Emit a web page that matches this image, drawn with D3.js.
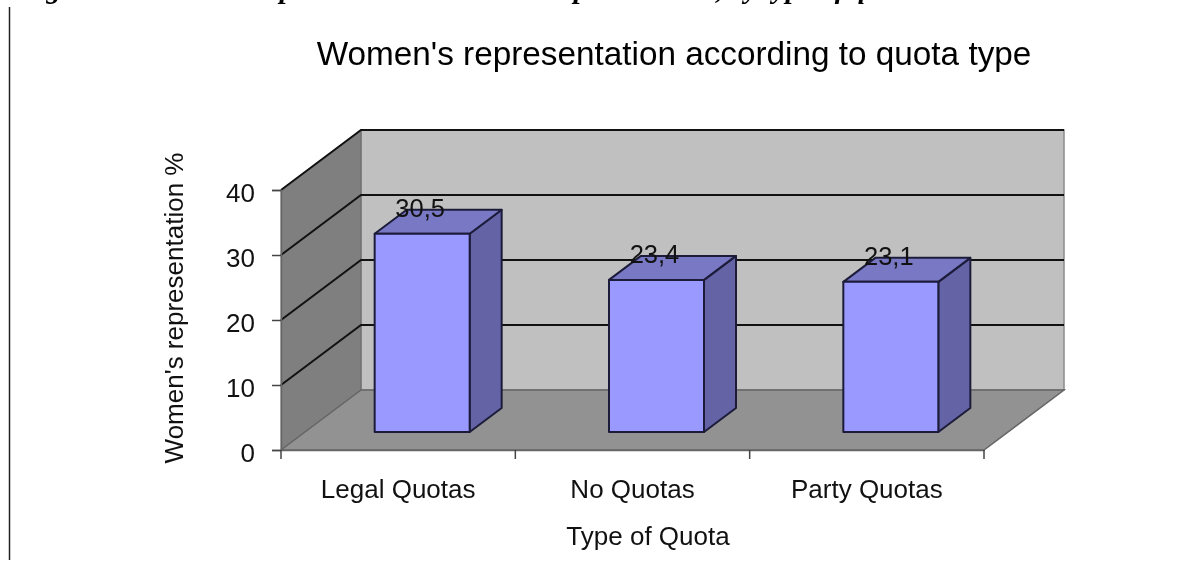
<!DOCTYPE html>
<html>
<head>
<meta charset="utf-8">
<script src="https://cdnjs.cloudflare.com/ajax/libs/d3/7.8.5/d3.min.js"></script>
<style>
	body { margin: 0; background: #fff; }
	svg { display: block; font-family: "Liberation Sans", Arial, sans-serif; filter: blur(0.5px); }
</style>
</head>
<body>
<div id="chart"></div>
<script>
const categories = ["Legal Quotas", "No Quotas", "Party Quotas"];
const values = [30.5, 23.4, 23.1];
const yTicks = [0, 10, 20, 30, 40];
const chartTitle = "Women's representation according to quota type";
const yTitle = "Women's representation %";
const xTitle = "Type of Quota";
const caption = "Figure 1: Women's representation in national parliaments, by type of quota";

const width = 1203,
	height = 561;

const svg = d3
	.select("#chart")
	.append("svg")
	.attr("width", width)
	.attr("height", height)
	.attr("viewBox", [0, 0, width, height]);

// front plane of the 3d box
const xScale = d3.scaleBand().domain(categories).range([281, 984]);
const yScale = d3.scaleLinear().domain([0, 40]).range([450, 190]);

// how far the back of the box is shifted from the front
const depthX = 80,
	depthY = -60;
const barDepthFront = 0.3,
	barDepthBack = 0.7;
const barWidth = 95;

const project = (x, y, depth) => [x + depth * depthX, y + depth * depthY];
const poly = d3.line();
const polygon = (points) => poly(points) + "Z";

const [xLeft, xRight] = xScale.range();
const yBase = yScale(0),
	yTop = yScale(40);

// caption cut off by the top of the page, only its descenders show
svg
	.append("text")
	.attr("x", 19)
	.attr("y", -2)
	.style("font", "italic bold 29px 'Liberation Serif', serif")
	.text(caption);

// rule on the left of the page
svg
	.append("line")
	.attr("x1", 9.5)
	.attr("x2", 9.5)
	.attr("y1", 7)
	.attr("y2", 560)
	.style("stroke", "#222")
	.style("stroke-width", 1.5);

// walls and floor
const box = svg.append("g").attr("id", "box");
box
	.append("path")
	.attr(
		"d",
		polygon([
			project(xLeft, yTop, 1),
			project(xRight, yTop, 1),
			project(xRight, yBase, 1),
			project(xLeft, yBase, 1)
		])
	)
	.style("fill", "#c0c0c0")
	.style("stroke", "#8a8a8a")
	.style("stroke-width", 1.5);
box
	.append("path")
	.attr(
		"d",
		polygon([
			project(xLeft, yTop, 0),
			project(xLeft, yTop, 1),
			project(xLeft, yBase, 1),
			project(xLeft, yBase, 0)
		])
	)
	.style("fill", "#7f7f7f")
	.style("stroke", "#6a6a6a")
	.style("stroke-width", 1);
box
	.append("path")
	.attr(
		"d",
		polygon([
			project(xLeft, yBase, 0),
			project(xRight, yBase, 0),
			project(xRight, yBase, 1),
			project(xLeft, yBase, 1)
		])
	)
	.style("fill", "#929292")
	.style("stroke", "#666")
	.style("stroke-width", 1.5);

// gridlines, running along the side wall and then the back wall
box
	.selectAll("path.grid")
	.data(yTicks.filter((d) => d > 0))
	.join("path")
	.attr("class", "grid")
	.attr("d", (d) =>
		poly([
			project(xLeft, yScale(d), 0),
			project(xLeft, yScale(d), 1),
			project(xRight, yScale(d), 1)
		])
	)
	.style("fill", "none")
	.style("stroke", "#111")
	.style("stroke-width", 2);

// bars
const bars = svg
	.append("g")
	.attr("id", "bars")
	.selectAll("g")
	.data(categories.map((c, i) => ({ category: c, value: values[i] })))
	.join("g");

const barLeft = (d) =>
	xScale(d.category) + (xScale.bandwidth() - barWidth) / 2;

// corners of a bar in the front and back planes
function corners(d) {
	const x0 = barLeft(d),
		x1 = x0 + barWidth,
		y0 = yScale(0),
		y1 = yScale(d.value);
	return {
		frontBL: project(x0, y0, barDepthFront),
		frontBR: project(x1, y0, barDepthFront),
		frontTL: project(x0, y1, barDepthFront),
		frontTR: project(x1, y1, barDepthFront),
		backBR: project(x1, y0, barDepthBack),
		backTL: project(x0, y1, barDepthBack),
		backTR: project(x1, y1, barDepthBack)
	};
}

const barFaces = [
	{ fill: "#6363a6", pts: (c) => [c.frontBR, c.backBR, c.backTR, c.frontTR] },
	{ fill: "#7878c4", pts: (c) => [c.frontTL, c.frontTR, c.backTR, c.backTL] },
	{ fill: "#9999ff", pts: (c) => [c.frontBL, c.frontBR, c.frontTR, c.frontTL] }
];

barFaces.forEach((face) => {
	bars
		.append("path")
		.attr("d", (d) => polygon(face.pts(corners(d))))
		.style("fill", face.fill)
		.style("stroke", "#1c1c3a")
		.style("stroke-width", 2)
		.style("stroke-linejoin", "round");
});

// value labels, with decimal comma
bars
	.append("text")
	.attr("x", (d) => barLeft(d) + barWidth / 2 + barDepthFront * depthX - 2)
	.attr("y", (d) => project(0, yScale(d.value), barDepthFront)[1] - 17)
	.attr("text-anchor", "middle")
	.style("font-size", "25.5px")
	.style("fill", "#111")
	.text((d) => String(d.value).replace(".", ","));

// axes
const yAxis = svg
	.append("g")
	.attr("transform", `translate(${xLeft},0)`)
	.call(d3.axisLeft(yScale).tickValues(yTicks).tickSize(9).tickPadding(17));
const xAxis = svg
	.append("g")
	.attr("transform", `translate(0,${yBase})`)
	.call(d3.axisBottom(xScale).tickSize(0).tickPadding(30));

xAxis
	.selectAll(".boundary")
	.data(d3.range(categories.length + 1))
	.join("line")
	.attr("class", "boundary")
	.attr("x1", (d) => xLeft + d * xScale.bandwidth())
	.attr("x2", (d) => xLeft + d * xScale.bandwidth())
	.attr("y2", 9)
	.style("stroke", "#444")
	.style("stroke-width", 1.5);

[yAxis, xAxis].forEach((axis) => {
	axis.style("font-family", null).style("font-size", null);
	axis.selectAll("text").style("font-size", "26px").style("fill", "#111");
	axis.select(".domain").style("stroke", "#666").style("stroke-width", 1.5);
	axis.selectAll(".tick line").style("stroke", "#444").style("stroke-width", 1.5);
});
yAxis.selectAll(".tick text").attr("dy", "0.44em");

// titles
svg
	.append("text")
	.attr("x", 674)
	.attr("y", 65)
	.attr("text-anchor", "middle")
	.style("font-size", "33.3px")
	.style("fill", "#000")
	.text(chartTitle);
svg
	.append("text")
	.attr("transform", "translate(183,308) rotate(-90)")
	.attr("text-anchor", "middle")
	.style("font-size", "26px")
	.style("fill", "#111")
	.text(yTitle);
svg
	.append("text")
	.attr("x", 648)
	.attr("y", 545)
	.attr("text-anchor", "middle")
	.style("font-size", "26px")
	.style("fill", "#111")
	.text(xTitle);
</script>
</body>
</html>
